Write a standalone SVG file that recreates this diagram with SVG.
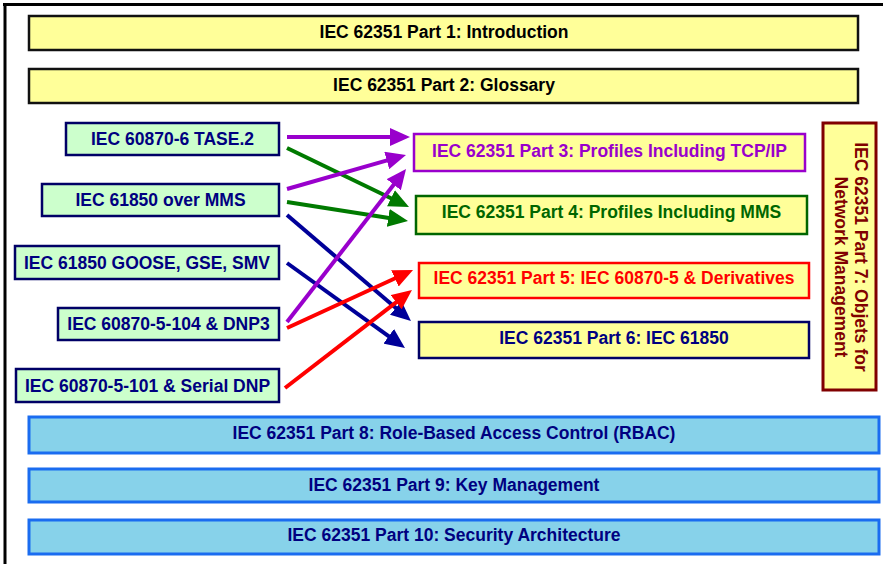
<svg xmlns="http://www.w3.org/2000/svg" width="886" height="564" viewBox="0 0 886 564">
<style>
text{font-family:"Liberation Sans",Arial,sans-serif;font-weight:bold;font-size:17.5px;text-anchor:middle;dominant-baseline:central}
.top rect{fill:#FFFF99;stroke:#111;stroke-width:2.5}
.top text{fill:#000}
.src rect{fill:#CCFFCC;stroke:#000066;stroke-width:2.5}
.src text{fill:#000080}
.dst rect{fill:#FFFF99;stroke-width:2.5}
.bot rect{fill:#87D2EA;stroke:#1A6CF0;stroke-width:3}
.bot text{fill:#000080}
.ar{stroke-width:4;fill:none}
</style>
<defs>
<marker id="mP" markerUnits="userSpaceOnUse" markerWidth="20" markerHeight="18" viewBox="0 0 20 18" refX="4" refY="9" orient="auto"><path d="M0,0 L20,9 L0,18 z" fill="#9900CC"/></marker>
<marker id="mG" markerUnits="userSpaceOnUse" markerWidth="20" markerHeight="18" viewBox="0 0 20 18" refX="4" refY="9" orient="auto"><path d="M0,0 L20,9 L0,18 z" fill="#007A00"/></marker>
<marker id="mN" markerUnits="userSpaceOnUse" markerWidth="20" markerHeight="18" viewBox="0 0 20 18" refX="4" refY="9" orient="auto"><path d="M0,0 L20,9 L0,18 z" fill="#000099"/></marker>
<marker id="mR" markerUnits="userSpaceOnUse" markerWidth="20" markerHeight="18" viewBox="0 0 20 18" refX="4" refY="9" orient="auto"><path d="M0,0 L20,9 L0,18 z" fill="#FF0000"/></marker>
</defs>
<rect width="886" height="564" fill="#fff"/>
<path d="M5,3 V564 M3,4.5 H883" stroke="#000" stroke-width="3" fill="none"/>

<g id="part1" class="top"><rect x="29" y="16" width="829" height="34"/><text x="444" y="32">IEC 62351 Part 1: Introduction</text></g>
<g id="part2" class="top"><rect x="29" y="69" width="829" height="34"/><text x="444" y="85">IEC 62351 Part 2: Glossary</text></g>

<g id="tase2" class="src"><rect x="66" y="123" width="213" height="32"/><text x="172.5" y="139">IEC 60870-6 TASE.2</text></g>
<g id="mms" class="src"><rect x="42" y="184" width="237" height="32"/><text x="160.5" y="200">IEC 61850 over MMS</text></g>
<g id="goose" class="src"><rect x="15" y="246" width="264" height="33"/><text x="147" y="262.5">IEC 61850 GOOSE, GSE, SMV</text></g>
<g id="dnp3" class="src"><rect x="58" y="308" width="221" height="32"/><text x="168.5" y="324">IEC 60870-5-104 &amp; DNP3</text></g>
<g id="serial" class="src"><rect x="16" y="369" width="263" height="33"/><text x="147.5" y="385.5">IEC 60870-5-101 &amp; Serial DNP</text></g>

<g id="part3" class="dst"><rect x="414" y="134" width="391" height="37" stroke="#9900CC"/><text x="609.5" y="151" fill="#9900CC">IEC 62351 Part 3: Profiles Including TCP/IP</text></g>
<g id="part4" class="dst"><rect x="416" y="196" width="391" height="38" stroke="#006600"/><text x="611.5" y="212" fill="#006600">IEC 62351 Part 4: Profiles Including MMS</text></g>
<g id="part5" class="dst"><rect x="419" y="263" width="390" height="35" stroke="#FF0000"/><text x="614" y="278" fill="#FF0000">IEC 62351 Part 5: IEC 60870-5 &amp; Derivatives</text></g>
<g id="part6" class="dst"><rect x="419" y="322" width="390" height="36" stroke="#000066"/><text x="614" y="338" fill="#000080">IEC 62351 Part 6: IEC 61850</text></g>

<g id="part7"><rect x="823" y="123" width="53" height="267" fill="#FFFF99" stroke="#800000" stroke-width="3"/>
<text transform="translate(861,257) rotate(90)" fill="#800000">IEC 62351 Part 7: Objets for</text>
<text transform="translate(841,267) rotate(90)" fill="#800000">Network Management</text></g>

<g id="part8" class="bot"><rect x="29" y="417" width="850" height="36"/><text x="454" y="433">IEC 62351 Part 8: Role-Based Access Control (RBAC)</text></g>
<g id="part9" class="bot"><rect x="29" y="469" width="850" height="33"/><text x="454" y="485">IEC 62351 Part 9: Key Management</text></g>
<g id="part10" class="bot"><rect x="29" y="520" width="850" height="34"/><text x="454" y="535">IEC 62351 Part 10: Security Architecture</text></g>

<g id="connectors">
<line class="ar" x1="287" y1="137" x2="394" y2="137" stroke="#9900CC" marker-end="url(#mP)"/>
<line class="ar" x1="287" y1="148" x2="394.6" y2="200" stroke="#007A00" marker-end="url(#mG)"/>
<line class="ar" x1="287" y1="189" x2="390.6" y2="159.4" stroke="#9900CC" marker-end="url(#mP)"/>
<line class="ar" x1="287" y1="202" x2="392.2" y2="218.5" stroke="#007A00" marker-end="url(#mG)"/>
<line class="ar" x1="287" y1="215" x2="398.8" y2="310.6" stroke="#000099" marker-end="url(#mN)"/>
<line class="ar" x1="287" y1="263" x2="392" y2="338.6" stroke="#000099" marker-end="url(#mN)"/>
<line class="ar" x1="287" y1="322" x2="396.2" y2="181.6" stroke="#9900CC" marker-end="url(#mP)"/>
<line class="ar" x1="287" y1="328" x2="398.5" y2="276.7" stroke="#FF0000" marker-end="url(#mR)"/>
<line class="ar" x1="285" y1="388" x2="399.3" y2="299.8" stroke="#FF0000" marker-end="url(#mR)"/>
</g>
</svg>
